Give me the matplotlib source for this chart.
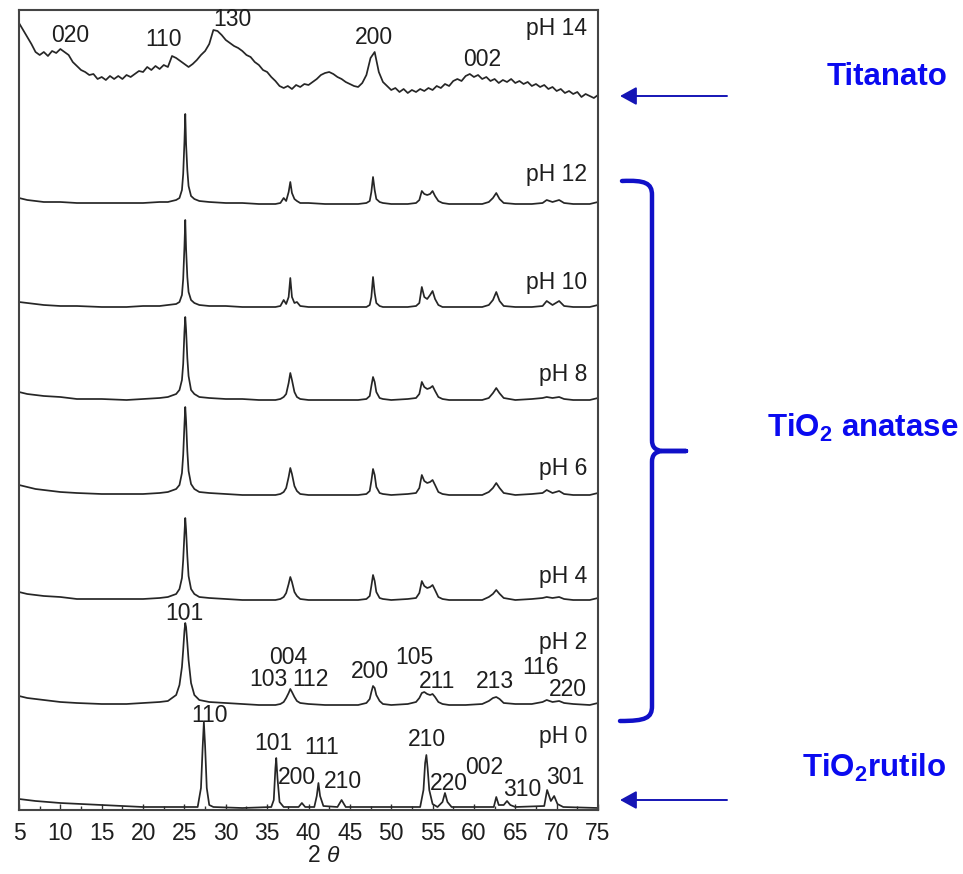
"""
XRD patterns of TiO2 samples prepared at different pH (stacked),
with phase annotations on the right.
"""

import numpy as np
import matplotlib
matplotlib.use("Agg")
import matplotlib.pyplot as plt
from matplotlib.path import Path
from matplotlib.patches import PathPatch, FancyArrowPatch
from matplotlib.ticker import MultipleLocator

plt.rcParams['font.family'] = ['Liberation Sans', 'DejaVu Sans']
plt.rcParams['mathtext.fontset'] = 'custom'
plt.rcParams['mathtext.rm'] = 'Liberation Sans'
plt.rcParams['mathtext.it'] = 'Liberation Sans:italic'
plt.rcParams['mathtext.bf'] = 'Liberation Sans:bold'

# ---------------------------------------------------------------------------
# Data (intensities, arbitrary units)
# ---------------------------------------------------------------------------

# pH 14 (titanate), sampled every 0.5 deg from 5 to 75
two_theta_ph14 = np.arange(5.0, 75.01, 0.5)
ph14 = [87, 80, 73, 66, 58, 55, 58, 54, 59, 57,
        61, 58, 55, 48, 44, 40, 38, 35, 36, 31,
        33, 30, 34, 31, 34, 31, 35, 33, 36, 39,
        38, 43, 40, 44, 41, 45, 43, 54, 52, 49,
        46, 43, 46, 50, 55, 59, 66, 80, 79, 75,
        70, 67, 64, 62, 59, 55, 53, 48, 45, 40,
        38, 33, 29, 24, 22, 24, 21, 25, 23, 26,
        25, 28, 31, 35, 37, 38, 36, 33, 31, 28,
        26, 24, 23, 27, 35, 52, 58, 38, 28, 24,
        20, 22, 18, 21, 17, 20, 18, 21, 19, 22,
        20, 24, 22, 26, 24, 29, 31, 29, 34, 36,
        33, 35, 31, 33, 29, 31, 27, 30, 28, 31,
        27, 29, 26, 28, 24, 26, 23, 25, 21, 23,
        19, 21, 17, 19, 16, 18, 13, 16, 14, 12,
        15]

# anatase samples (pH 2 - 12), common 2theta grid
two_theta_anatase = [5, 6, 7, 8, 10, 12, 15, 18, 20, 22, 23,
                     24.0, 24.4, 24.7, 24.85, 25.0, 25.1, 25.2, 25.35, 25.5, 25.8, 26.2, 26.8,
                     28, 30, 32, 34, 36.0,
                     36.6, 37.0, 37.3, 37.6, 37.8, 38.0, 38.3, 38.6,
                     39.0, 40, 42, 44, 46,
                     47.0, 47.4, 47.6, 47.8, 48.0, 48.2, 48.6, 49.0,
                     50, 52, 53.0,
                     53.4, 53.7, 54.0, 54.35, 54.7, 55.0, 55.3, 55.7, 56.2,
                     57, 59, 61,
                     61.8, 62.3, 62.7, 63.1, 63.6,
                     65, 67,
                     68.3, 68.8, 69.5, 70.3, 70.9,
                     72, 74, 75]

ph12 = [6, 4, 3, 2, 2, 1, 1, 1, 1, 2, 2,
        4, 6, 14, 30, 62, 90, 60, 34, 18, 8, 5, 3,
        2, 1, 1, 0, 0,
        1, 6, 3, 12, 22, 11, 5, 3,
        1, 1, 0, 0, 0,
        1, 3, 12, 27, 14, 5, 2, 1,
        0, 0, 1,
        4, 13, 10, 9, 10, 13, 8, 3, 1,
        0, 0, 0,
        2, 6, 11, 5, 1,
        0, 0,
        1, 4, 2, 4, 1,
        0, 0, 2]

ph10 = [5, 4, 3, 2, 1, 1, 0, 0, 1, 1, 2,
        3, 5, 12, 28, 60, 87, 58, 30, 15, 7, 4, 2,
        1, 1, 0, 0, 0,
        1, 7, 3, 10, 29, 10, 4, 5,
        1, 0, 0, 0, 0,
        0, 2, 10, 30, 14, 4, 1, 0,
        0, 0, 1,
        4, 20, 10, 8, 12, 16, 8, 2, 0,
        0, 0, 0,
        2, 7, 15, 6, 1,
        0, 0,
        1, 6, 2, 6, 1,
        0, 0, 2]

ph8 = [8, 6, 5, 4, 3, 1, 1, 0, 1, 2, 3,
       6, 10, 20, 36, 68, 83, 70, 42, 24, 10, 6, 3,
       2, 1, 1, 0, 0,
       1, 3, 6, 17, 27, 20, 8, 3,
       1, 0, 0, 0, 0,
       1, 4, 14, 23, 18, 8, 2, 1,
       0, 1, 2,
       6, 18, 13, 11, 12, 14, 9, 3, 1,
       0, 0, 0,
       2, 7, 12, 7, 2,
       0, 1,
       2, 3, 2, 3, 1,
       0, 0, 2]

ph6 = [10, 8, 6, 5, 3, 2, 1, 1, 1, 2, 3,
       6, 10, 22, 40, 70, 88, 74, 44, 24, 11, 6, 3,
       2, 1, 0, 0, 0,
       1, 3, 7, 18, 27, 21, 9, 4,
       1, 0, 0, 0, 0,
       1, 4, 14, 26, 20, 8, 2, 1,
       0, 1, 2,
       7, 20, 14, 12, 13, 15, 10, 3, 1,
       0, 0, 0,
       3, 7, 12, 7, 2,
       0, 1,
       2, 5, 2, 4, 1,
       0, 0, 2]

ph4 = [8, 6, 5, 4, 3, 1, 1, 1, 1, 2, 3,
       6, 11, 22, 40, 66, 82, 70, 44, 24, 11, 6, 3,
       2, 1, 0, 0, 0,
       1, 3, 7, 16, 23, 18, 8, 4,
       1, 0, 0, 0, 0,
       1, 4, 14, 25, 19, 8, 2, 1,
       0, 1, 2,
       7, 19, 14, 12, 13, 15, 10, 3, 1,
       0, 0, 0,
       3, 6, 10, 6, 2,
       0, 1,
       2, 3, 2, 3, 1,
       0, 0, 2]

ph2 = [9, 7, 6, 5, 3, 2, 1, 1, 2, 3, 4,
       10, 20, 38, 55, 74, 82, 78, 62, 45, 22, 10, 5,
       3, 2, 1, 0, 0,
       1, 3, 7, 12, 16, 13, 8, 4,
       2, 1, 0, 0, 0,
       2, 6, 13, 19, 17, 10, 4, 1,
       0, 1, 3,
       7, 12, 13, 11, 10, 11, 8, 3, 1,
       0, 0, 1,
       4, 7, 8, 6, 2,
       1, 1,
       3, 5, 3, 4, 2,
       1, 0, 2]

# pH 0 (rutile)
two_theta_rutile = [5, 7, 10, 15, 20, 25, 26.6, 27.0, 27.2, 27.35,
                    27.5, 27.7, 28.0, 28.5, 32, 35.5, 35.8, 36.0, 36.1, 36.25,
                    36.5, 37.0, 38.8, 39.2, 39.6, 40.7, 41.0, 41.2, 41.4, 41.8,
                    43.5, 44.0, 44.5, 53.5, 53.9, 54.1, 54.25, 54.4, 54.6, 55.0,
                    55.6, 56.2, 56.5, 56.8, 57.3, 62.4, 62.7, 63.0, 63.6, 64.0,
                    64.4, 65, 68.5, 68.85, 69.3, 69.7, 70.1, 70.8, 75]
ph0 = [9, 7, 5, 3, 1, 1, 1, 20, 60, 86,
       62, 20, 3, 1, 0, 1, 8, 40, 50, 30,
       6, 1, 1, 5, 1, 1, 12, 25, 12, 2,
       1, 8, 1, 1, 18, 45, 53, 40, 18, 4,
       1, 6, 15, 6, 1, 1, 11, 3, 3, 7,
       3, 1, 2, 18, 7, 12, 4, 1, 0]

# sample labels
sample_labels = ['pH 14', 'pH 12', 'pH 10', 'pH 8', 'pH 6', 'pH 4', 'pH 2', 'pH 0']

# Miller indices written above the peaks
hkl_ph14 = ['020', '110', '130', '200', '002']
hkl_ph14_pos = [(11.2, 775), (22.5, 770), (30.8, 790), (47.9, 773), (61.0, 750)]

hkl_ph2 = ['101', '004', '103', '112', '200', '105', '211', '213', '116', '220']
hkl_ph2_pos = [(24.95, 197), (37.5, 152), (35.1, 130), (40.2, 130), (47.4, 138),
               (52.8, 152), (55.5, 129), (62.55, 129), (68.1, 143), (71.3, 120)]

hkl_ph0 = ['110', '101', '200', '111', '210', '210', '220', '002', '310', '301']
hkl_ph0_pos = [(28.0, 94), (35.8, 66), (38.6, 33), (41.6, 63), (44.2, 28),
               (54.3, 70), (57.0, 27), (61.3, 43), (65.8, 20), (71.0, 32)]

# ---------------------------------------------------------------------------
# Stacking (vertical offset of each pattern) and label heights
# ---------------------------------------------------------------------------
offsets = [700, 606, 503, 410, 315, 210, 105, 2]
label_y = [782, 635, 528, 435, 342, 233, 167, 73]

patterns = [
    (two_theta_ph14, ph14),
    (two_theta_anatase, ph12),
    (two_theta_anatase, ph10),
    (two_theta_anatase, ph8),
    (two_theta_anatase, ph6),
    (two_theta_anatase, ph4),
    (two_theta_anatase, ph2),
    (two_theta_rutile, ph0),
]

for x, y in patterns:
    assert len(x) == len(y), (len(x), len(y))

W, H = 963, 874
fig = plt.figure(figsize=(W / 100, H / 100), dpi=100)
ax = fig.add_axes([19 / W, 1 - 810 / H, 579 / W, 800 / H])

line_color = '#262626'
for (x, y), off in zip(patterns, offsets):
    ax.plot(x, off + np.asarray(y, dtype=float), color=line_color, lw=1.25,
            solid_joinstyle='round')

ax.set_xlim(5, 75)
ax.set_ylim(0, 800)

text_kw = dict(fontsize=16.5, color='#1e1e1e')
for lab, ly in zip(sample_labels, label_y):
    ax.text(73.7, ly, lab, ha='right', va='center', **text_kw)

for labels, pos in [(hkl_ph14, hkl_ph14_pos), (hkl_ph2, hkl_ph2_pos), (hkl_ph0, hkl_ph0_pos)]:
    for lab, (px, py) in zip(labels, pos):
        ax.text(px, py, lab, ha='center', va='center', **text_kw)

# axes styling
ax.xaxis.set_major_locator(MultipleLocator(5))
ax.xaxis.set_minor_locator(MultipleLocator(2.5))
ax.tick_params(axis='x', which='both', direction='in', top=False, bottom=True,
               labelsize=16.5, pad=9, colors='#333333', labelcolor='#1e1e1e')
ax.tick_params(axis='x', which='major', length=4, width=1)
ax.tick_params(axis='x', which='minor', length=3, width=1)
ax.set_yticks([])
for sp in ax.spines.values():
    sp.set_linewidth(1.5)
    sp.set_color('#444444')

fig.text(324 / W, 1 - 856 / H, r'2 $\theta$', ha='center', va='center',
         fontsize=16.5, color='#1e1e1e')

# ---------------------------------------------------------------------------
# Phase annotations (right side)
# ---------------------------------------------------------------------------
blue_text = '#0a0af0'
blue_line = '#1515b5'

fig.text(887 / W, 1 - 77 / H, 'Titanato', ha='center', va='center',
         fontsize=22.5, fontweight='bold', color=blue_text)
fig.text(863 / W, 1 - 428 / H, r'TiO$_\mathbf{2}$ anatase', ha='center', va='center',
         fontsize=22.5, fontweight='bold', color=blue_text)
fig.text(874 / W, 1 - 768 / H, r'TiO$_\mathbf{2}$rutilo', ha='center', va='center',
         fontsize=22.5, fontweight='bold', color=blue_text)

for ay in [96, 800]:
    fig.add_artist(FancyArrowPatch(
        (727, H - ay), (620, H - ay), transform=None,
        arrowstyle='-|>,head_length=10,head_width=5.5', lw=1.4,
        color=blue_line, shrinkA=0, shrinkB=0))

# curly brace spanning the anatase patterns (figure pixel coords, y down)
brace = [
    (Path.MOVETO, (622, 181)),
    (Path.CURVE4, (645, 180)), (Path.CURVE4, (652, 183)), (Path.CURVE4, (652, 195)),
    (Path.LINETO, (652, 440)),
    (Path.CURVE4, (652, 447)), (Path.CURVE4, (655, 450)), (Path.CURVE4, (662, 451)),
    (Path.LINETO, (686, 451)),
    (Path.LINETO, (662, 451)),
    (Path.CURVE4, (655, 452)), (Path.CURVE4, (652, 455)), (Path.CURVE4, (652, 462)),
    (Path.LINETO, (652, 706)),
    (Path.CURVE4, (652, 718)), (Path.CURVE4, (646, 721)), (Path.CURVE4, (620, 721)),
]
codes, verts = zip(*brace)
verts = [(vx, H - vy) for vx, vy in verts]
fig.add_artist(PathPatch(Path(verts, codes), transform=None, fill=False,
                         edgecolor='#1010c8', lw=3.2, capstyle='round',
                         joinstyle='round'))

fig.savefig('out.png', dpi=100)
